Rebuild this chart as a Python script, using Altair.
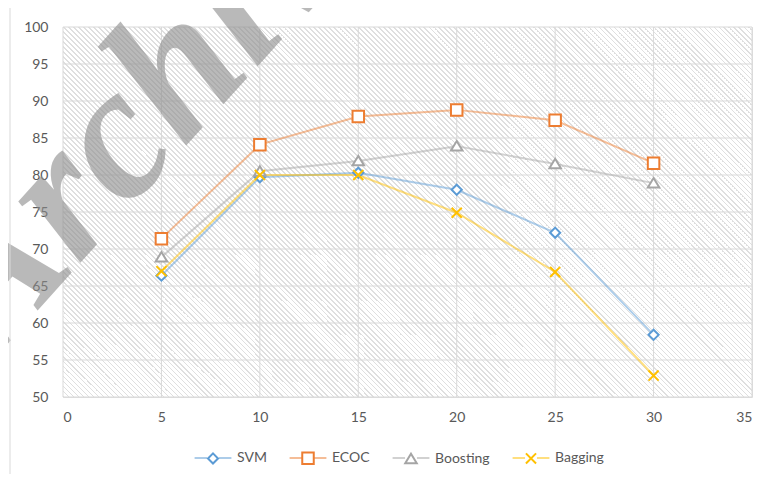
import altair as alt
import pandas as pd

# ---- data ----
x_vals = [5, 10, 15, 20, 25, 30]
svm = [66.4, 79.7, 80.3, 78.0, 72.2, 58.4]
ecoc = [71.4, 84.1, 87.9, 88.8, 87.4, 81.6]
boosting = [68.9, 80.5, 81.9, 83.9, 81.5, 78.9]
bagging = [67.0, 80.0, 80.0, 74.9, 66.9, 52.9]

series_names = ["SVM", "ECOC", "Boosting", "Bagging"]
series_keys = ["1", "2", "3", "4"]
series_colors = ["#5B9BD5", "#ED7D31", "#A5A5A5", "#FFC000"]
x_ticks = [0, 5, 10, 15, 20, 25, 30, 35]
y_ticks = [50, 55, 60, 65, 70, 75, 80, 85, 90, 95, 100]
watermark = "Archive of SID"

# marker outlines (unit coordinates, legend symbol spans -1..1)
marker_paths = [
    "M0,-0.22L0.22,0L0,0.22L-0.22,0Z",
    "M-0.25,-0.25H0.25V0.25H-0.25Z",
    "M0,-0.22L0.25,0.19L-0.25,0.19Z",
    "M-0.22,-0.22L0.22,0.22M-0.22,0.22L0.22,-0.22",
]
line_path = "M-0.8,0H-0.26M0.26,0H0.8"

rows = []
for name, key, vals in zip(series_names, series_keys, [svm, ecoc, boosting, bagging]):
    for xv, yv in zip(x_vals, vals):
        rows.append({"series": name, "key": key, "x": xv, "y": yv})
df = pd.DataFrame(rows)

W, H = 689, 370
FONT = "Lato"
LABEL_COLOR = "#595959"
SYMBOL_SIZE = 2116

# ---- diagonal hatch as a striped linear gradient (5 px horizontal period) ----
r = H / W
s = (1 + r) / (1 + r * r)
period = 5.0 / (W + H)
frac = 0.3
line_c, bg_c = "#dfdfdf", "#ffffff"
stops = []
i = 0
while i * period < 1:
    a = i * period
    b = min(1.0, (i + frac) * period)
    c = min(1.0, (i + 1) * period)
    stops += [
        {"offset": a, "color": line_c},
        {"offset": b, "color": line_c},
        {"offset": b, "color": bg_c},
        {"offset": c, "color": bg_c},
    ]
    i += 1
hatch_fill = {"gradient": "linear", "x1": 0, "y1": 1, "x2": s, "y2": 1 - s * r, "stops": stops}

x_scale = alt.Scale(domain=[0, 35], nice=False, zero=False)
y_scale = alt.Scale(domain=[50, 100], nice=False, zero=False)

x_axis = alt.Axis(values=x_ticks, grid=False, ticks=False, domain=False, title=None,
                  labelPadding=13, labelFont=FONT, labelFontSize=14, labelColor=LABEL_COLOR)
y_axis = alt.Axis(values=y_ticks, grid=False, ticks=False, domain=False, title=None,
                  labelPadding=15, labelFont=FONT, labelFontSize=14, labelColor=LABEL_COLOR)

legend_common = dict(
    orient="none", legendX=126, legendY=407, direction="horizontal", title=None,
    symbolSize=SYMBOL_SIZE, labelOffset=0, columnPadding=17, padding=0,
    labelFont=FONT, labelFontSize=14, labelColor=LABEL_COLOR,
)

hatch = alt.Chart(pd.DataFrame({"a": [0]})).mark_rect(fill=hatch_fill, strokeWidth=0).encode(
    x=alt.datum(0, scale=x_scale, axis=x_axis),
    x2=alt.datum(35),
    y=alt.datum(50, scale=y_scale, axis=y_axis),
    y2=alt.datum(100),
)

vgrid = alt.Chart(pd.DataFrame({"x": x_ticks})).mark_rule(color="#d9d9d9", strokeWidth=1).encode(
    x=alt.X("x:Q", scale=x_scale, axis=x_axis)
)
hgrid = alt.Chart(pd.DataFrame({"y": y_ticks})).mark_rule(color="#d9d9d9", strokeWidth=1).encode(
    y=alt.Y("y:Q", scale=y_scale, axis=y_axis)
)

lines = alt.Chart(df).mark_line(strokeWidth=2, opacity=0.5).encode(
    x=alt.X("x:Q", scale=x_scale, axis=x_axis),
    y=alt.Y("y:Q", scale=y_scale, axis=y_axis),
    stroke=alt.Stroke(
        "key:N",
        scale=alt.Scale(domain=series_keys, range=series_colors),
        legend=alt.Legend(
            symbolType=line_path, symbolStrokeWidth=2, symbolOpacity=0.5, labelOpacity=0,
            labelExpr="['SVM','ECOC','Boosting','Bagging'][toNumber(datum.value) - 1]",
            **legend_common,
        ),
    ),
    order="x:Q",
)

pt_legend = alt.Legend(symbolStrokeWidth=2, **legend_common)
points = alt.Chart(df).mark_point(filled=False, fill="white", size=SYMBOL_SIZE, strokeWidth=2, opacity=1).encode(
    x=alt.X("x:Q", scale=x_scale, axis=x_axis),
    y=alt.Y("y:Q", scale=y_scale, axis=y_axis),
    color=alt.Color("series:N", scale=alt.Scale(domain=series_names, range=series_colors), legend=pt_legend),
    shape=alt.Shape("series:N", scale=alt.Scale(domain=series_names, range=marker_paths), legend=pt_legend),
)

wm = alt.Chart(pd.DataFrame({"t": [watermark]})).mark_text(
    font="Liberation Serif", fontStyle="italic", fontWeight="bold", fontSize=190,
    angle=312, align="left", baseline="alphabetic", color="#8c8c8c", opacity=0.6,
).encode(text="t:N", x=alt.value(-70), y=alt.value(333))

frame = alt.Chart(pd.DataFrame({"a": [0]})).mark_rule(color="#d9d9d9", strokeWidth=1).encode(
    x=alt.value(-53), y=alt.value(-20), y2=alt.value(460)
)

chart = alt.layer(hatch, vgrid, hgrid, lines, points, wm, frame).properties(
    width=W, height=H,
    autosize=alt.AutoSizeParams(type="none"),
    padding={"left": 55, "top": 19, "right": 9, "bottom": 77},
).configure_view(stroke=None).configure(background="white")

chart.save("out.html", embed_options={"renderer": "svg", "actions": False})
